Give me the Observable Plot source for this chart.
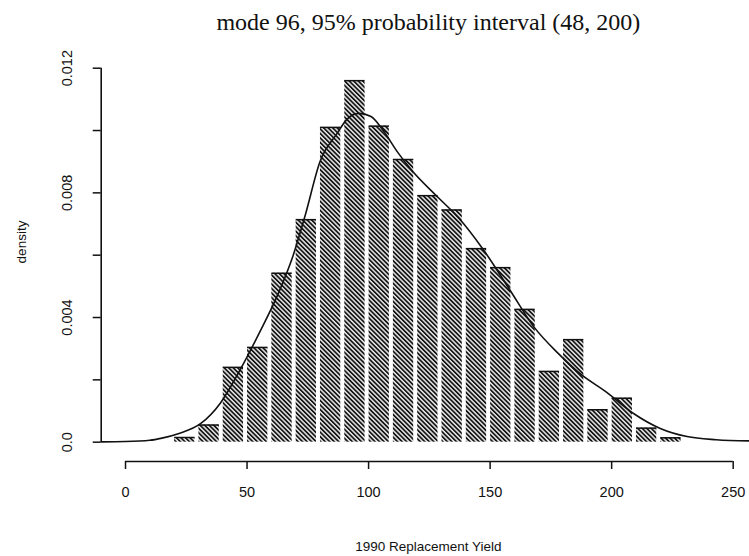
<!DOCTYPE html>
<html><head><meta charset="utf-8">
<script src="https://cdn.jsdelivr.net/npm/d3@7"></script>
<script src="https://cdn.jsdelivr.net/npm/@observablehq/plot@0.6"></script>
<style>html,body{margin:0;padding:0;background:#fff;} svg{display:block}</style>
</head><body><div id="chart"></div>
<script>
const titleText = "mode 96, 95% probability interval (48, 200)";
const xLabel = "1990 Replacement Yield";
const yLabel = "density";

// histogram bins (lower / upper edges) and densities
const binLo = [20, 30, 40, 50, 60, 70, 80, 90, 100, 110, 120, 130, 140, 150, 160, 170, 180, 190, 200, 210, 220];
const binHi = [30, 40, 50, 60, 70, 80, 90, 100, 110, 120, 130, 140, 150, 160, 170, 180, 190, 200, 210, 220, 230];
const density = [0.00015, 0.00055, 0.0024, 0.00304, 0.00542, 0.00714, 0.0101, 0.0116, 0.01014, 0.00907, 0.00791,
                 0.00745, 0.00621, 0.0056, 0.00426, 0.00227, 0.00329, 0.00104, 0.00141, 0.00045, 0.00014];

// smoothed density curve
const curveX = [-10, 0, 10, 15, 22, 31, 39, 47, 55, 63, 69, 74, 80, 87, 91, 96, 101, 106, 112, 118, 128, 137, 147, 158, 168, 178, 187, 198, 209, 220, 231, 243, 257];
const curveY = [0.00001, 0.00002, 0.00006, 0.00013, 0.00028, 0.0006, 0.00125, 0.0023, 0.0035, 0.0048, 0.0060, 0.0073,
                0.0090, 0.0099, 0.01035, 0.01055, 0.01045, 0.0100, 0.0093, 0.0087, 0.0079, 0.0072, 0.0062, 0.0049,
                0.0037, 0.00285, 0.0022, 0.0016, 0.00092, 0.00044, 0.00018, 0.00008, 0.00004];

const xTicks = [0, 50, 100, 150, 200, 250];
const yTicks = [0, 0.002, 0.004, 0.006, 0.008, 0.010, 0.012];
const yLabelValues = [0, 0.004, 0.008, 0.012];
const yLabelTexts = ["0.0", "0.004", "0.008", "0.012"];

const bins = binLo.map((lo, i) => ({lo, hi: binHi[i], d: density[i]}));
const curve = curveX.map((x, i) => ({x, y: curveY[i]}));

const xDomain = [-10, 260];
const yDomain = [-0.00062, 0.012];
const sans = "'Liberation Sans', Arial, Helvetica, sans-serif";

const chart = Plot.plot({
  width: 749, height: 556,
  marginLeft: 100.7, marginRight: 0, marginTop: 22, marginBottom: 95,
  x: {domain: xDomain, range: [100.7, 757]},
  y: {domain: yDomain, range: [461, 67.7]},
  style: {fontFamily: sans, fontSize: "14px", color: "#111", background: "white"},
  marks: [
    Plot.rectY(bins, {x1: "lo", x2: "hi", y1: 0, y2: "d", fill: "url(#hatch)", insetLeft: 0.5, insetRight: 3.5}),
    Plot.ruleY(bins, {x1: "lo", x2: "hi", y: "d", stroke: "#111", strokeWidth: 1.5, insetLeft: 0.5, insetRight: 3.5}),
    Plot.line(curve, {x: "x", y: "y", curve: "monotone-x", stroke: "#111", strokeWidth: 1.6}),
    Plot.ruleX([xDomain[0]], {y1: yTicks[0], y2: yTicks[yTicks.length - 1], stroke: "#111", strokeWidth: 1.6}),
    Plot.axisY({ticks: yTicks, tickSize: 8, tickFormat: () => "", label: null, anchor: "left", strokeWidth: 1.5}),
    Plot.text(yLabelValues, {y: d => d, text: (d, i) => yLabelTexts[i], frameAnchor: "left", textAnchor: "middle",
      dx: -34, rotate: -90, fontSize: 14.5, fill: "#111"}),
    Plot.ruleY([yDomain[0]], {x1: xTicks[0], x2: xTicks[xTicks.length - 1], stroke: "#111", strokeWidth: 1.6}),
    Plot.axisX({ticks: xTicks, tickSize: 8, tickPadding: 17, label: null, anchor: "bottom", fontSize: 14.5, strokeWidth: 1.5}),
    Plot.text([xLabel], {frameAnchor: "bottom", dy: 89, dx: 3, fontSize: 13.5, fill: "#111"}),
    Plot.text([yLabel], {frameAnchor: "left", textAnchor: "middle", rotate: -90, dx: -80, fontSize: 13.5, fill: "#111"}),
    Plot.text([titleText], {frameAnchor: "top", lineAnchor: "middle", dx: 3, dy: 0,
      fontFamily: "'Liberation Serif', 'Times New Roman', serif", fontSize: 24, fill: "#111"})
  ]
});

d3.select(chart).insert("defs", ":first-child").html(`
  <pattern id="hatch" patternUnits="userSpaceOnUse" width="3.2" height="3.2" patternTransform="rotate(-45)">
    <rect width="3.2" height="3.2" fill="#e6e6e6"></rect>
    <rect width="1.7" height="3.2" fill="#151515"></rect>
  </pattern>`);

document.getElementById("chart").appendChild(chart);
</script>
</body></html>
